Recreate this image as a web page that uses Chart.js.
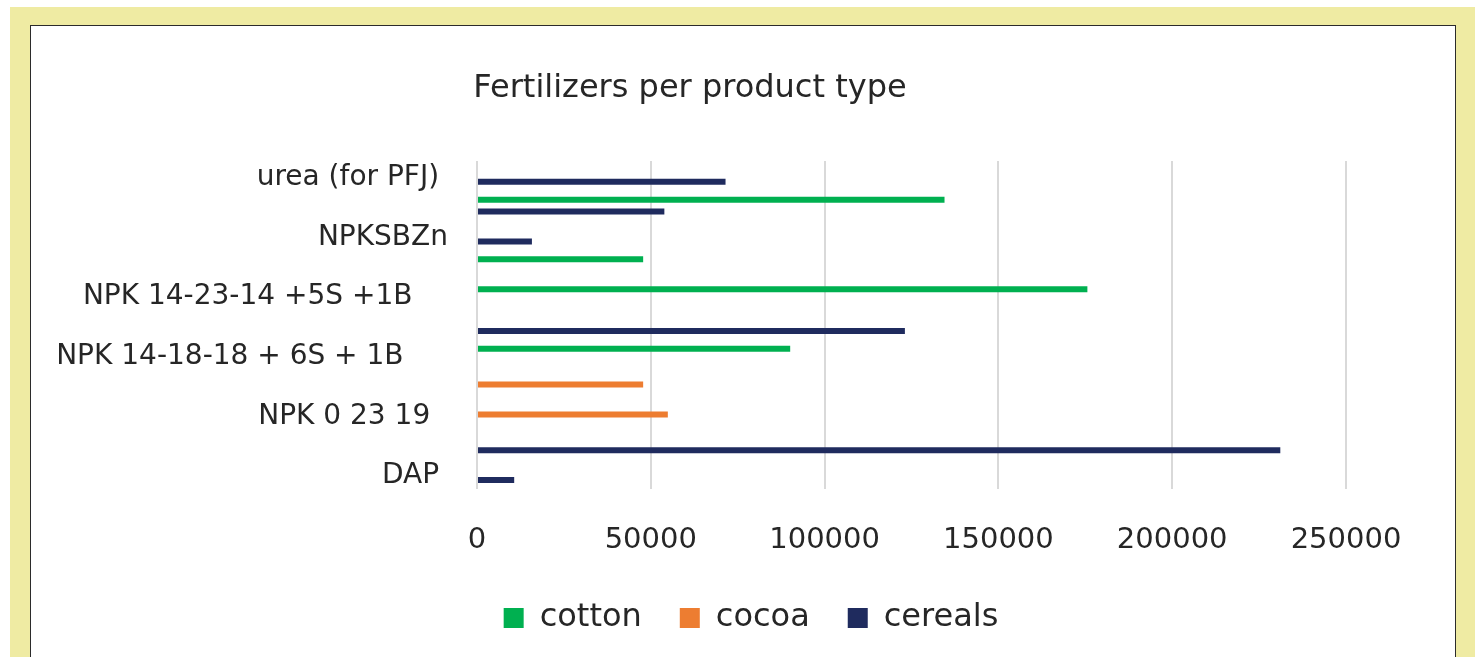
<!DOCTYPE html>
<html>
<head>
<meta charset="utf-8">
<title>Fertilizers per product type</title>
<script src="https://cdn.jsdelivr.net/npm/chart.js@4.4.1/dist/chart.umd.min.js"></script>
<style>
  html, body { margin: 0; padding: 0; background: #fff; overflow: hidden; width: 1475px; height: 657px; }
  .frame { position: absolute; left: 10px; top: 7px; right: 0; bottom: 0; background: #EFEBA3; }
  .panel { position: absolute; left: 30px; top: 25px; width: 1424px; height: 700px; background: #fff; border: 1px solid #2b2b2b; }
  .wrap { position: absolute; left: 31px; top: 26px; width: 1424px; height: 618px; }
</style>
</head>
<body>
<div class="frame"></div>
<div class="panel"></div>
<div class="wrap"><canvas id="myChart"></canvas></div>
<script>
// 11 rows, Excel only printed every other label
const categories = ['urea (for PFJ) ', '', 'NPKSBZn', '', 'NPK 14-23-14 +5S +1B    ', '', 'NPK 14-18-18 + 6S + 1B     ', '', 'NPK 0 23 19  ', '', 'DAP '];
const cotton  = [null, 134500, null, 47800, 175600, null, 90100, null, null, null, null];
const cocoa   = [null, null, null, null, null, null, null, 47800, 54900, null, null];
const cereals = [71500, 53900, 15800, null, null, 123100, null, null, null, 231100, 10700];
const xTicks = [0, 50000, 100000, 150000, 200000, 250000];

const font = 'DejaVu Sans';
const textColor = '#262626';

// legend sits a bit right of the title in the original
const shiftLegend = {
  id: 'shiftLegend',
  afterLayout(chart) {
    chart.legend.left += 61;
    chart.legend.right += 61;
  }
};

const ctx = document.getElementById('myChart');
const chart = new Chart(ctx, {
  type: 'bar',
  data: {
    labels: categories,
    datasets: [
      { label: 'cotton', data: cotton, backgroundColor: '#00B050', borderWidth: 0 },
      { label: 'cocoa', data: cocoa, backgroundColor: '#ED7D31', borderWidth: 0 },
      { label: 'cereals', data: cereals, backgroundColor: '#1F2B5E', borderWidth: 0 }
    ]
  },
  options: {
    indexAxis: 'y',
    responsive: true,
    maintainAspectRatio: false,
    animation: false,
    categoryPercentage: 0.6,
    barPercentage: 1.0,
    layout: { padding: { left: 3, right: 109, top: 0, bottom: 0 } },
    scales: {
      x: {
        min: xTicks[0],
        max: xTicks[xTicks.length - 1],
        afterFit: (scale) => { scale.height = 75; },
        border: { display: false },
        grid: { color: '#D9D9D9', lineWidth: 2, drawTicks: false },
        ticks: {
          stepSize: xTicks[1] - xTicks[0],
          padding: 34,
          color: textColor,
          font: { family: font, size: 29 },
          callback: (value) => String(value)
        }
      },
      y: {
        afterFit: (scale) => { scale.width = 443; },
        border: { display: false },
        grid: { display: false, drawTicks: false },
        ticks: {
          autoSkip: false,
          padding: 29,
          labelOffset: 2,
          color: textColor,
          font: { family: font, size: 28 }
        }
      }
    },
    plugins: {
      title: {
        display: true,
        text: 'Fertilizers per product type',
        color: textColor,
        font: { family: font, size: 32, weight: 'normal' },
        padding: { top: 43, bottom: 53.5 }
      },
      legend: {
        position: 'bottom',
        labels: {
          boxWidth: 20,
          boxHeight: 20,
          padding: 38,
          color: textColor,
          font: { family: font, size: 32 }
        }
      },
      tooltip: { enabled: false }
    }
  },
  plugins: [shiftLegend]
});
</script>
</body>
</html>
